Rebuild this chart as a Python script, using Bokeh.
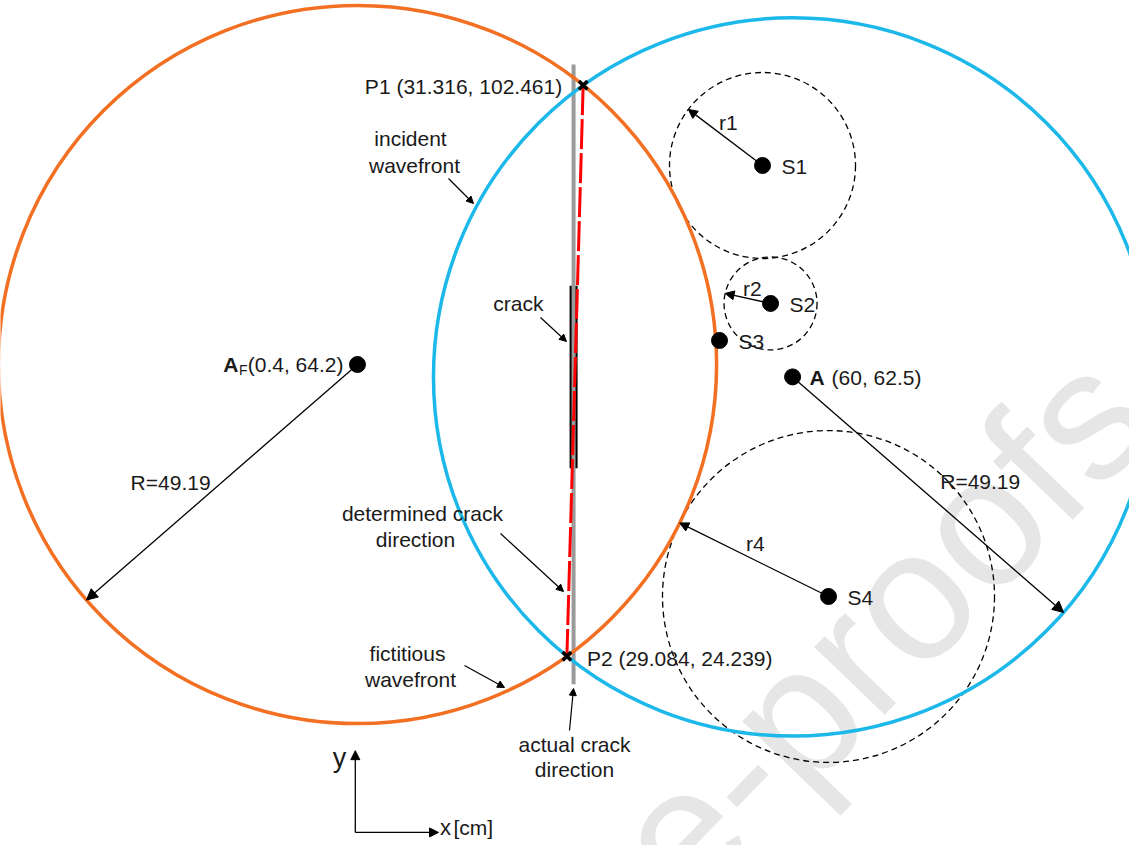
import numpy as np
from bokeh.plotting import figure
from bokeh.models import Arrow, NormalHead, Range1d
from bokeh.core.properties import value
from bokeh.embed import file_html
from bokeh.resources import INLINE

FONT = "Liberation Sans"

# ---- data (cm) ----
# wavefronts: fictitious (around A_F) and incident (around A)
wave_x = [0.4, 60.0]
wave_y = [64.2, 62.5]
wave_R = [49.19, 49.19]
wave_colors = ["#f36f21", "#1cb8ea"]
R_angle_deg = [221.0, -41.0]
R_label_x = [-25.2, 85.7]
R_label_y = [48.0, 48.2]

# intersection points
P_x = [31.316, 29.084]
P_y = [102.461, 24.239]
P_text = ["P1 (31.316, 102.461)", "P2 (29.084, 24.239)"]

# sensors
S_names = ["S1", "S2", "S3", "S4"]
S_x = [55.88, 56.98, 49.99, 64.92]
S_y = [91.46, 72.56, 67.49, 32.42]
# sensor circles (S3 has none)
SC_x = [55.88, 56.98, 64.92]
SC_y = [91.46, 72.56, 32.42]
SC_r = [12.74, 6.37, 22.74]
SC_angle_deg = [142.9, 167.5, 153.7]
r_names = ["r1", "r2", "r4"]
r_label_x = [51.2, 54.5, 54.9]
r_label_y = [97.35, 74.6, 39.7]

# actual crack direction and crack
actual_x = 30.0
actual_y = [20.4, 105.3]
crack_y = [50.0, 75.0]

# ---- figure ----
p = figure(width=1129, height=845, output_backend="svg", toolbar_location=None,
           x_range=Range1d(-48.50, 106.15), y_range=Range1d(-1.69, 114.06),
           min_border=0)
p.axis.visible = False
p.grid.visible = False
p.outline_line_color = None
p.background_fill_color = "white"

# watermark
p.text(x=[93.96], y=[63.65], text=["Journal Pre-proofs"], angle=np.deg2rad(46),
       x_offset=75, y_offset=15, text_align="right", text_baseline="alphabetic",
       text_font=value(FONT), text_font_size="185px", text_color="#e6e6e6")

# crack (black bar) and actual crack direction (gray)
p.line([actual_x, actual_x], crack_y, line_color="black", line_width=8)
p.line([actual_x, actual_x], actual_y, line_color="#9a9a9a", line_width=4)

# sensor circles
p.circle(x=SC_x, y=SC_y, radius=SC_r, fill_color=None, line_color="black",
         line_width=1.3, line_dash="6 4")

# wavefronts
p.circle(x=wave_x[1:], y=wave_y[1:], radius=wave_R[1:], fill_color=None,
         line_color=wave_colors[1], line_width=3.5)
p.circle(x=wave_x[:1], y=wave_y[:1], radius=wave_R[:1], fill_color=None,
         line_color=wave_colors[0], line_width=3.5)

# determined crack direction
p.line(P_x, P_y, line_color="#ff0000", line_width=3, line_dash="30 4")

# radius arrows
for cx, cy, R, a in zip(wave_x, wave_y, wave_R, R_angle_deg):
    t = np.deg2rad(a)
    p.add_layout(Arrow(end=NormalHead(size=11, fill_color="black", line_color="black"),
                       x_start=cx, y_start=cy, x_end=cx + R * np.cos(t), y_end=cy + R * np.sin(t),
                       line_width=1.3, line_color="black"))
for cx, cy, r, a in zip(SC_x, SC_y, SC_r, SC_angle_deg):
    t = np.deg2rad(a)
    p.add_layout(Arrow(end=NormalHead(size=9, fill_color="black", line_color="black"),
                       x_start=cx, y_start=cy, x_end=cx + r * np.cos(t), y_end=cy + r * np.sin(t),
                       line_width=1.3, line_color="black"))

# pointer arrows for labels
ptr = [
    (12.87, 89.68, 16.29, 86.25),   # incident wavefront
    (25.47, 70.64, 29.03, 67.35),   # crack
    (19.99, 41.05, 28.62, 33.10),   # determined crack direction
    (15.06, 22.97, 20.54, 19.95),   # fictitious wavefront
    (29.44, 14.06, 29.99, 19.82),   # actual crack direction
]
for x0, y0, x1, y1 in ptr:
    p.add_layout(Arrow(end=NormalHead(size=7, fill_color="black", line_color="black"),
                       x_start=x0, y_start=y0, x_end=x1, y_end=y1,
                       line_width=1.2, line_color="black"))

# coordinate indicator
for x1, y1 in [(0.1, 11.3), (11.5, 0.1)]:
    p.add_layout(Arrow(end=NormalHead(size=9, fill_color="black", line_color="black"),
                       x_start=0.1, y_start=0.1, x_end=x1, y_end=y1,
                       line_width=1.3, line_color="black"))

# points
p.scatter(x=wave_x, y=wave_y, size=16, color="black")
p.scatter(x=S_x, y=S_y, size=16, color="black")
p.scatter(x=P_x, y=P_y, marker="x", size=12, line_width=3.5, line_color="black")

def txt(x, y, s, align="left", size="21px", style="normal", xo=0, yo=0, base="middle"):
    p.text(x=x, y=y, text=s, text_align=align, text_baseline=base,
           text_font=value(FONT), text_font_size=size, text_font_style=style,
           text_color="#1a1a1a", x_offset=xo, y_offset=yo)

# point labels
txt([P_x[0]], [P_y[0]], [P_text[0]], align="right", xo=-21, yo=1)
txt([P_x[1]], [P_y[1]], [P_text[1]], align="left", xo=20, yo=2)
txt(S_x, S_y, S_names, xo=19, yo=1)
txt([wave_x[1]], [wave_y[1]], ["A"], style="bold", xo=17, yo=1)
txt([wave_x[1]], [wave_y[1]], ["(60, 62.5)"], xo=39, yo=1)
txt([wave_x[0]], [wave_y[0]], ["(0.4, 64.2)"], align="right", xo=-14, yo=0)
txt([wave_x[0]], [wave_y[0]], ["F"], align="right", size="14px", xo=-110, yo=6)
txt([wave_x[0]], [wave_y[0]], ["A"], align="right", style="bold", xo=-119, yo=0)
txt(R_label_x, R_label_y, ["R=49.19", "R=49.19"], align="center")
txt(r_label_x, r_label_y, r_names, align="center")

# annotations
txt([7.66, 8.21], [95.16, 91.46], ["incident", "wavefront"], align="center")
txt([22.45], [72.56], ["crack"], align="center")
txt([9.30, 8.35], [43.79, 40.23], ["determined crack", "direction"], align="center")
txt([7.25, 7.66], [24.61, 21.05], ["fictitious", "wavefront"], align="center")
txt([30.13, 30.13], [12.15, 8.72], ["actual crack", "direction"], align="center")
txt([-2.07], [10.36], ["y"], align="center", size="27px")
txt([11.36], [0.0], ["x"], align="center", size="22px", xo=8, yo=-6)
txt([13.55], [0.77], ["[cm]"], align="left")

open("out.html", "w").write(file_html(p, INLINE))
